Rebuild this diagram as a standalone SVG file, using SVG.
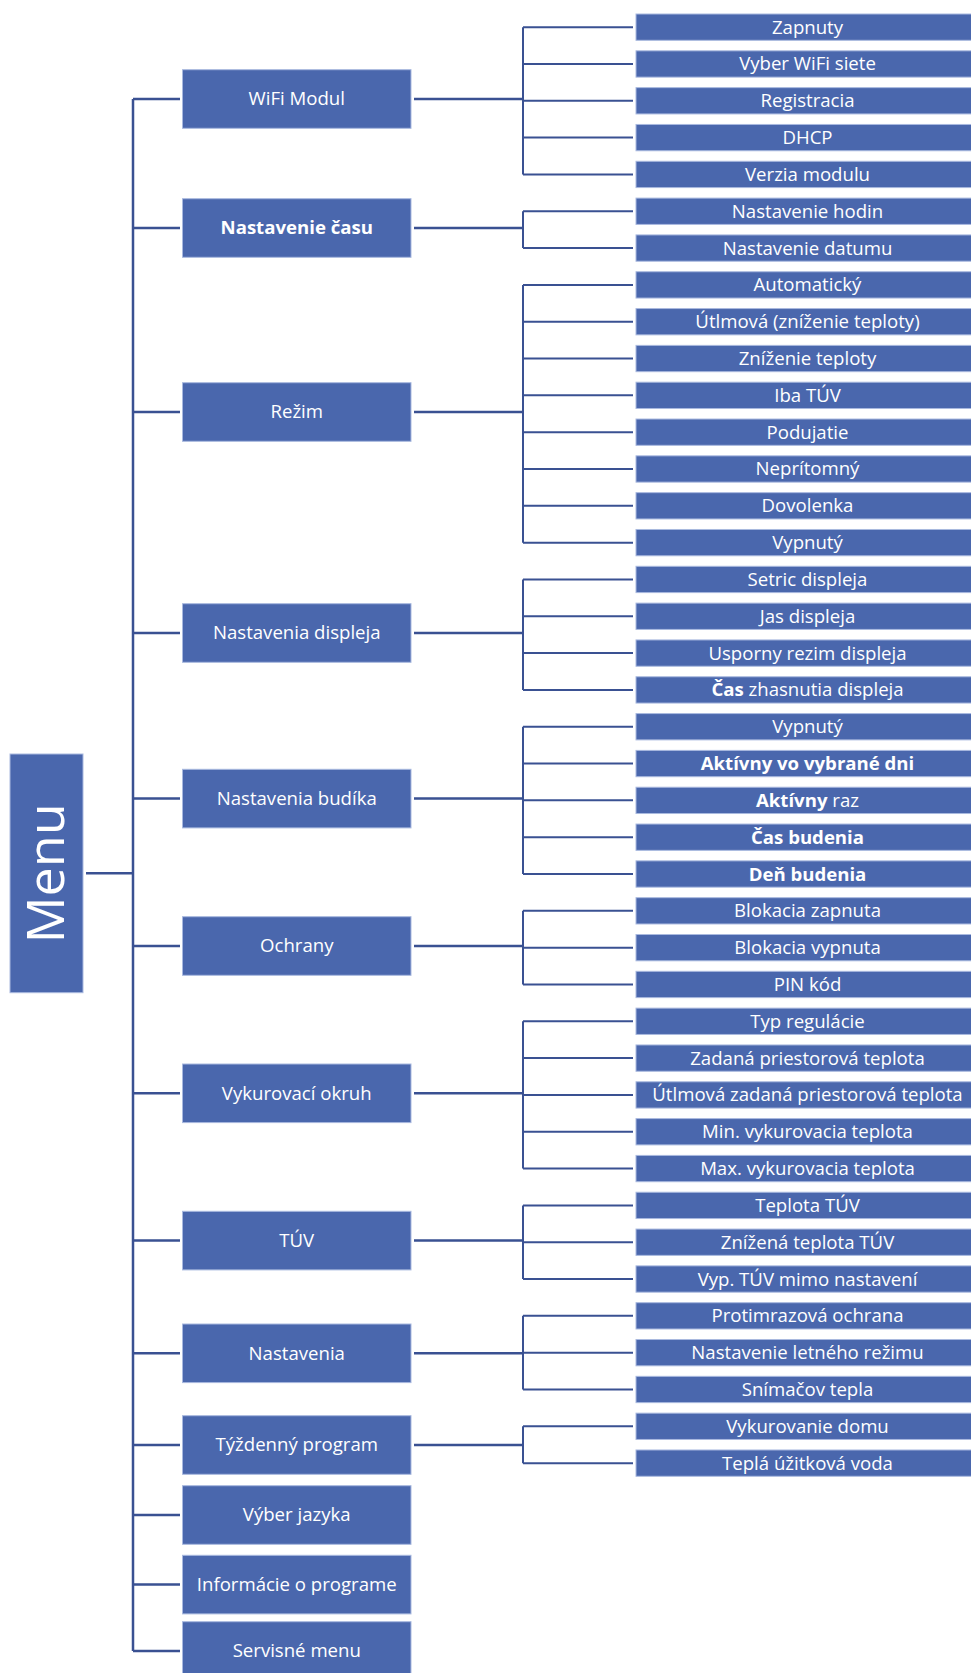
<svg xmlns="http://www.w3.org/2000/svg" width="971" height="1673" viewBox="0 0 971 1673">
<style>
.box{fill:#4A67AD;stroke:#A9B9DF;stroke-width:1}
.t{font-family:"Open Sans","Liberation Sans",sans-serif;font-size:18.6px;fill:#fff;text-anchor:middle}
.b{font-weight:bold}
.ln{stroke:#3A5192;stroke-width:2.5;fill:none}
.lf{stroke:#3A5192;stroke-width:2;fill:none}
.menu{font-family:"Open Sans","Liberation Sans",sans-serif;font-size:52px;font-weight:400;fill:#fff;text-anchor:middle}
</style>
<rect width="971" height="1673" fill="#fff"/>
<g id="connectors">
<path class="ln" d="M86 873.3H133M133 99V1651M133 99H180M133 228H180M133 412H180M133 633H180M133 798.6H180M133 946H180M133 1093.3H180M133 1240.6H180M133 1353.3H180M133 1445H180M133 1515H180M133 1584.6H180M133 1651H180"/>
<path class="ln" d="M414 99H523M414 228H523M414 412H523M414 633H523M414 798.6H523M414 946H523M414 1093.3H523M414 1240.6H523M414 1353.3H523M414 1445H523"/>
<path class="lf" d="M523 27.15V174.43M523 211.25V248.07M523 284.89V542.63M523 579.45V689.91M523 726.73V874.01M523 910.83V984.47M523 1021.29V1168.57M523 1205.39V1279.03M523 1315.85V1389.49M523 1426.31V1463.13"/>
<path class="lf" d="M523 27.15H633M523 63.97H633M523 100.79H633M523 137.61H633M523 174.43H633M523 211.25H633M523 248.07H633M523 284.89H633M523 321.71H633M523 358.53H633M523 395.35H633M523 432.17H633M523 468.99H633M523 505.81H633M523 542.63H633M523 579.45H633M523 616.27H633M523 653.09H633M523 689.91H633M523 726.73H633M523 763.55H633M523 800.37H633M523 837.19H633M523 874.01H633M523 910.83H633M523 947.65H633M523 984.47H633M523 1021.29H633M523 1058.11H633M523 1094.93H633M523 1131.75H633M523 1168.57H633M523 1205.39H633M523 1242.21H633M523 1279.03H633M523 1315.85H633M523 1352.67H633M523 1389.49H633M523 1426.31H633M523 1463.13H633"/>
</g>
<g id="menu"><rect class="box" x="10" y="754" width="73" height="238.7"/><text class="menu" transform="translate(46.5,873.3) rotate(-90)" y="17">Menu</text></g>
<g id="m-wifi" transform="translate(182.5,69.7)"><rect class="box" width="228.5" height="58.6"/><text class="t" x="114.25" y="35.8">WiFi Modul</text></g>
<g id="m-cas" transform="translate(182.5,198.7)"><rect class="box" width="228.5" height="58.6"/><text class="t b" x="114.25" y="35.8">Nastavenie času</text></g>
<g id="m-rezim" transform="translate(182.5,382.7)"><rect class="box" width="228.5" height="58.6"/><text class="t" x="114.25" y="35.8">Režim</text></g>
<g id="m-displej" transform="translate(182.5,603.7)"><rect class="box" width="228.5" height="58.6"/><text class="t" x="114.25" y="35.8">Nastavenia displeja</text></g>
<g id="m-budik" transform="translate(182.5,769.3)"><rect class="box" width="228.5" height="58.6"/><text class="t" x="114.25" y="35.8">Nastavenia budíka</text></g>
<g id="m-ochrany" transform="translate(182.5,916.7)"><rect class="box" width="228.5" height="58.6"/><text class="t" x="114.25" y="35.8">Ochrany</text></g>
<g id="m-vykur" transform="translate(182.5,1064)"><rect class="box" width="228.5" height="58.6"/><text class="t" x="114.25" y="35.8">Vykurovací okruh</text></g>
<g id="m-tuv" transform="translate(182.5,1211.3)"><rect class="box" width="228.5" height="58.6"/><text class="t" x="114.25" y="35.8">TÚV</text></g>
<g id="m-nast" transform="translate(182.5,1324)"><rect class="box" width="228.5" height="58.6"/><text class="t" x="114.25" y="35.8">Nastavenia</text></g>
<g id="m-tyzd" transform="translate(182.5,1415.7)"><rect class="box" width="228.5" height="58.6"/><text class="t" x="114.25" y="35.8">Týždenný program</text></g>
<g id="m-jazyk" transform="translate(182.5,1485.7)"><rect class="box" width="228.5" height="58.6"/><text class="t" x="114.25" y="35.8">Výber jazyka</text></g>
<g id="m-info" transform="translate(182.5,1555.3)"><rect class="box" width="228.5" height="58.6"/><text class="t" x="114.25" y="35.8">Informácie o programe</text></g>
<g id="m-servis" transform="translate(182.5,1621.7)"><rect class="box" width="228.5" height="58.6"/><text class="t" x="114.25" y="35.8">Servisné menu</text></g>
<g id="l0" transform="translate(636,14)"><rect class="box" width="345" height="26.3"/><text class="t" x="171.5" y="19.65">Zapnuty</text></g>
<g id="l1" transform="translate(636,50.82)"><rect class="box" width="345" height="26.3"/><text class="t" x="171.5" y="19.65">Vyber WiFi siete</text></g>
<g id="l2" transform="translate(636,87.64)"><rect class="box" width="345" height="26.3"/><text class="t" x="171.5" y="19.65">Registracia</text></g>
<g id="l3" transform="translate(636,124.46)"><rect class="box" width="345" height="26.3"/><text class="t" x="171.5" y="19.65">DHCP</text></g>
<g id="l4" transform="translate(636,161.28)"><rect class="box" width="345" height="26.3"/><text class="t" x="171.5" y="19.65">Verzia modulu</text></g>
<g id="l5" transform="translate(636,198.1)"><rect class="box" width="345" height="26.3"/><text class="t" x="171.5" y="19.65">Nastavenie hodin</text></g>
<g id="l6" transform="translate(636,234.92)"><rect class="box" width="345" height="26.3"/><text class="t" x="171.5" y="19.65">Nastavenie datumu</text></g>
<g id="l7" transform="translate(636,271.74)"><rect class="box" width="345" height="26.3"/><text class="t" x="171.5" y="19.65">Automatický</text></g>
<g id="l8" transform="translate(636,308.56)"><rect class="box" width="345" height="26.3"/><text class="t" x="171.5" y="19.65">Útlmová (zníženie teploty)</text></g>
<g id="l9" transform="translate(636,345.38)"><rect class="box" width="345" height="26.3"/><text class="t" x="171.5" y="19.65">Zníženie teploty</text></g>
<g id="l10" transform="translate(636,382.2)"><rect class="box" width="345" height="26.3"/><text class="t" x="171.5" y="19.65">Iba TÚV</text></g>
<g id="l11" transform="translate(636,419.02)"><rect class="box" width="345" height="26.3"/><text class="t" x="171.5" y="19.65">Podujatie</text></g>
<g id="l12" transform="translate(636,455.84)"><rect class="box" width="345" height="26.3"/><text class="t" x="171.5" y="19.65">Neprítomný</text></g>
<g id="l13" transform="translate(636,492.66)"><rect class="box" width="345" height="26.3"/><text class="t" x="171.5" y="19.65">Dovolenka</text></g>
<g id="l14" transform="translate(636,529.48)"><rect class="box" width="345" height="26.3"/><text class="t" x="171.5" y="19.65">Vypnutý</text></g>
<g id="l15" transform="translate(636,566.3)"><rect class="box" width="345" height="26.3"/><text class="t" x="171.5" y="19.65">Setric displeja</text></g>
<g id="l16" transform="translate(636,603.12)"><rect class="box" width="345" height="26.3"/><text class="t" x="171.5" y="19.65">Jas displeja</text></g>
<g id="l17" transform="translate(636,639.94)"><rect class="box" width="345" height="26.3"/><text class="t" x="171.5" y="19.65">Usporny rezim displeja</text></g>
<g id="l18" transform="translate(636,676.76)"><rect class="box" width="345" height="26.3"/><text class="t" x="171.5" y="19.65"><tspan class="b">Čas</tspan> zhasnutia displeja</text></g>
<g id="l19" transform="translate(636,713.58)"><rect class="box" width="345" height="26.3"/><text class="t" x="171.5" y="19.65">Vypnutý</text></g>
<g id="l20" transform="translate(636,750.4)"><rect class="box" width="345" height="26.3"/><text class="t b" x="171.5" y="19.65">Aktívny vo vybrané dni</text></g>
<g id="l21" transform="translate(636,787.22)"><rect class="box" width="345" height="26.3"/><text class="t" x="171.5" y="19.65"><tspan class="b">Aktívny</tspan> raz</text></g>
<g id="l22" transform="translate(636,824.04)"><rect class="box" width="345" height="26.3"/><text class="t b" x="171.5" y="19.65">Čas budenia</text></g>
<g id="l23" transform="translate(636,860.86)"><rect class="box" width="345" height="26.3"/><text class="t b" x="171.5" y="19.65">Deň budenia</text></g>
<g id="l24" transform="translate(636,897.68)"><rect class="box" width="345" height="26.3"/><text class="t" x="171.5" y="19.65">Blokacia zapnuta</text></g>
<g id="l25" transform="translate(636,934.5)"><rect class="box" width="345" height="26.3"/><text class="t" x="171.5" y="19.65">Blokacia vypnuta</text></g>
<g id="l26" transform="translate(636,971.32)"><rect class="box" width="345" height="26.3"/><text class="t" x="171.5" y="19.65">PIN kód</text></g>
<g id="l27" transform="translate(636,1008.14)"><rect class="box" width="345" height="26.3"/><text class="t" x="171.5" y="19.65">Typ regulácie</text></g>
<g id="l28" transform="translate(636,1044.96)"><rect class="box" width="345" height="26.3"/><text class="t" x="171.5" y="19.65">Zadaná priestorová teplota</text></g>
<g id="l29" transform="translate(636,1081.78)"><rect class="box" width="345" height="26.3"/><text class="t" x="171.5" y="19.65">Útlmová zadaná priestorová teplota</text></g>
<g id="l30" transform="translate(636,1118.6)"><rect class="box" width="345" height="26.3"/><text class="t" x="171.5" y="19.65">Min. vykurovacia teplota</text></g>
<g id="l31" transform="translate(636,1155.42)"><rect class="box" width="345" height="26.3"/><text class="t" x="171.5" y="19.65">Max. vykurovacia teplota</text></g>
<g id="l32" transform="translate(636,1192.24)"><rect class="box" width="345" height="26.3"/><text class="t" x="171.5" y="19.65">Teplota TÚV</text></g>
<g id="l33" transform="translate(636,1229.06)"><rect class="box" width="345" height="26.3"/><text class="t" x="171.5" y="19.65">Znížená teplota TÚV</text></g>
<g id="l34" transform="translate(636,1265.88)"><rect class="box" width="345" height="26.3"/><text class="t" x="171.5" y="19.65">Vyp. TÚV mimo nastavení</text></g>
<g id="l35" transform="translate(636,1302.7)"><rect class="box" width="345" height="26.3"/><text class="t" x="171.5" y="19.65">Protimrazová ochrana</text></g>
<g id="l36" transform="translate(636,1339.52)"><rect class="box" width="345" height="26.3"/><text class="t" x="171.5" y="19.65">Nastavenie letného režimu</text></g>
<g id="l37" transform="translate(636,1376.34)"><rect class="box" width="345" height="26.3"/><text class="t" x="171.5" y="19.65">Snímačov tepla</text></g>
<g id="l38" transform="translate(636,1413.16)"><rect class="box" width="345" height="26.3"/><text class="t" x="171.5" y="19.65">Vykurovanie domu</text></g>
<g id="l39" transform="translate(636,1449.98)"><rect class="box" width="345" height="26.3"/><text class="t" x="171.5" y="19.65">Teplá úžitková voda</text></g>
</svg>
